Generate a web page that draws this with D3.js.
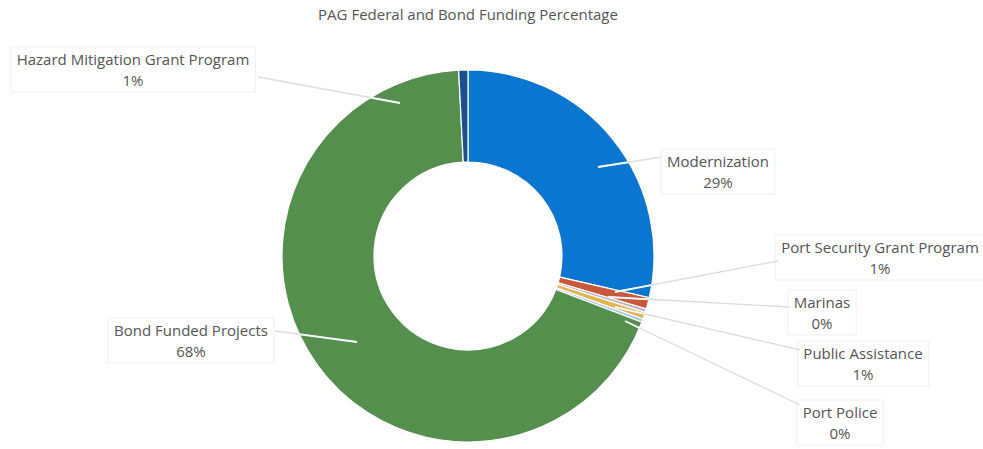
<!DOCTYPE html>
<html>
<head>
    <title>PAG Federal and Bond Funding Percentage</title>
    <script src="https://d3js.org/d3.v7.min.js"></script>
    <style>
        body { margin: 0; background: #fff; }
        text { font-family: "Open Sans", sans-serif; fill: #555; }
    </style>
</head>
<body>
    <svg width="983" height="449" id="mainSvg"></svg>
    <script>
        // data
        const categories = ["Modernization", "Port Security Grant Program", "Marinas", "Public Assistance",
            "Port Police", "Bond Funded Projects", "Hazard Mitigation Grant Program"];
        const values = [28.6, 1.0, 0.3, 0.6, 0.3, 68.4, 0.8];
        const colors = ["#0b76cf", "#c9573a", "#b7b2c6", "#e3b44f", "#a9c8e2", "#548f4e", "#1b4f8f"];

        // label placement: text centre, first line y, leader start and end
        const labelLayout = [
            { cx: 718, cy: 162, from: [662, 157], to: [598, 167] },
            { cx: 880, cy: 248, from: [778, 261], to: [615, 292] },
            { cx: 822, cy: 303, from: [790, 307], to: [608, 297] },
            { cx: 863, cy: 354, from: [800, 350], to: [615, 307] },
            { cx: 840, cy: 413, from: [800, 405], to: [625, 321] },
            { cx: 191, cy: 331, from: [275, 331], to: [357, 342] },
            { cx: 133, cy: 60,  from: [258, 77],  to: [400, 103] }
        ];

        const svg = d3.select("#mainSvg");
        const cx = 468, cy = 256, outerR = 186, innerR = 94;

        svg.append("text")
            .attr("x", cx).attr("y", 20)
            .attr("text-anchor", "middle")
            .attr("font-size", 15)
            .text("PAG Federal and Bond Funding Percentage");

        const rows = categories.map((c, i) => ({ name: c, value: values[i], color: colors[i], layout: labelLayout[i] }));

        const pie = d3.pie().value(d => d.value).sort(null);
        const arc = d3.arc().innerRadius(innerR).outerRadius(outerR);
        const arcs = pie(rows);

        const g = svg.append("g").attr("transform", `translate(${cx},${cy})`);

        g.selectAll("path.slice").data(arcs).join("path")
            .attr("class", "slice")
            .attr("d", arc)
            .attr("fill", d => d.data.color)
            .attr("stroke", "#fff")
            .attr("stroke-width", 1.2);

        // clip of the ring, so leader lines turn white over the slices
        svg.append("clipPath").attr("id", "ring")
            .append("path")
            .attr("transform", `translate(${cx},${cy})`)
            .attr("d", d3.arc().innerRadius(innerR).outerRadius(outerR).startAngle(0).endAngle(2 * Math.PI)());

        const pct = d3.format(".0f");

        const labels = svg.append("g");
        rows.forEach(d => {
            const L = d.layout;
            labels.append("line")
                .attr("x1", L.from[0]).attr("y1", L.from[1])
                .attr("x2", L.to[0]).attr("y2", L.to[1])
                .attr("stroke", "#dcdcdc").attr("stroke-width", 1.3);
            labels.append("line")
                .attr("x1", L.from[0]).attr("y1", L.from[1])
                .attr("x2", L.to[0]).attr("y2", L.to[1])
                .attr("clip-path", "url(#ring)")
                .attr("stroke", "#f6f6f6").attr("stroke-width", 1.8);

            const t = labels.append("text")
                .attr("text-anchor", "middle")
                .attr("font-size", 15);
            t.append("tspan").attr("x", L.cx).attr("y", L.cy + 5).text(d.name);
            t.append("tspan").attr("x", L.cx).attr("y", L.cy + 26).text(pct(d.value) + "%");

            const bb = t.node().getBBox();
            labels.insert("rect", "text")
                .attr("x", bb.x - 6).attr("y", bb.y - 2)
                .attr("width", bb.width + 12).attr("height", bb.height + 4)
                .attr("fill", "#fff")
                .attr("stroke", "#efefef").attr("stroke-width", 1);
        });
    </script>
</body>
</html>
